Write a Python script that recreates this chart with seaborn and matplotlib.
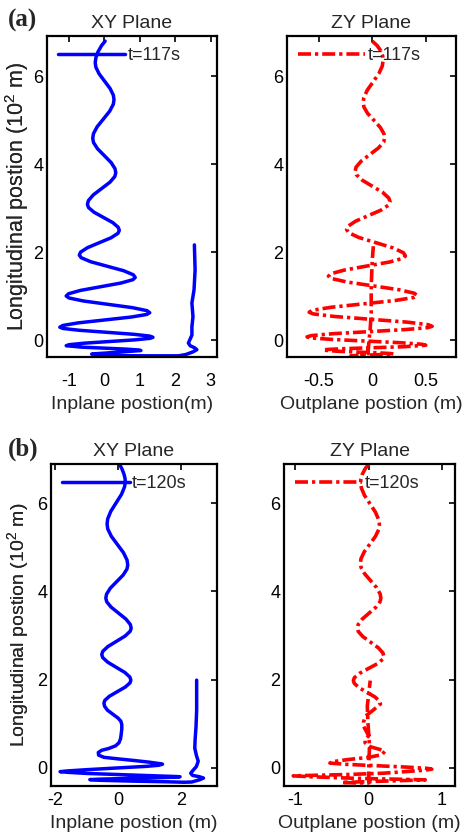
import numpy as np
import pandas as pd
import seaborn as sns
import matplotlib
matplotlib.use("Agg")
import matplotlib.pyplot as plt

# ---------------- data ----------------
# (a) XY plane, t=117s  (inplane position [m], longitudinal position [1e2 m])
xy117_x = [0.02, -0.08, -0.18, -0.24, -0.26,
           -0.242, -0.151, 0.005, 0.161, 0.252, 0.27,
           0.250, 0.146, -0.03, -0.206, -0.310, -0.33,
           -0.308, -0.196, -0.005, 0.186, 0.298, 0.32,
           0.293, 0.155, -0.08, -0.315, -0.453, -0.48,
           -0.449, -0.295, -0.03, 0.235, 0.389, 0.42,
           0.382, 0.187, -0.145, -0.477, -0.672, -0.71,
           -0.656, -0.385, 0.08, 0.545, 0.816, 0.87,
           0.804, 0.468, -0.105, -0.678, -1.014, -1.08,
           -1.000, -0.594, 0.10, 0.794, 1.200, 1.28,
           1.194, 0.757, 0.01, -0.737, -1.174, -1.26,
           -1.171, -0.718, 0.055, 0.828, 1.281, 1.37,
           1.287, 0.865, 0.145, -0.575, -0.997, -1.08,
           -0.645, -0.025, 0.595, 0.96, 1.03,
           0.74, 0.335, -0.07, -0.31, -0.36,
           -0.30, 0.30, 1.20, 2.09, 2.30, 2.50, 2.61, 2.55, 2.42, 2.37, 2.42,
           2.47, 2.47, 2.50, 2.47, 2.53, 2.56, 2.54]
xy117_y = [6.80, 6.70, 6.56, 6.43, 6.31,
           6.209, 6.058, 5.89, 5.722, 5.571, 5.47,
           5.364, 5.206, 5.03, 4.854, 4.696, 4.59,
           4.496, 4.356, 4.20, 4.044, 3.904, 3.81,
           3.724, 3.594, 3.45, 3.306, 3.176, 3.09,
           3.019, 2.913, 2.795, 2.677, 2.571, 2.50,
           2.433, 2.332, 2.22, 2.108, 2.007, 1.94,
           1.879, 1.787, 1.685, 1.583, 1.491, 1.43,
           1.380, 1.304, 1.22, 1.136, 1.060, 1.01,
           0.964, 0.896, 0.82, 0.744, 0.676, 0.63,
           0.590, 0.531, 0.465, 0.399, 0.340, 0.30,
           0.272, 0.231, 0.185, 0.139, 0.098, 0.07,
           0.047, 0.013, -0.025, -0.063, -0.097, -0.12,
           -0.153, -0.175, -0.197, -0.217, -0.23,
           -0.247, -0.27, -0.293, -0.305, -0.31,
           -0.335, -0.345, -0.35, -0.35, -0.32, -0.26, -0.21, -0.17, -0.12, -0.06, 0.03,
           0.12, 0.31, 0.54, 0.85, 1.15, 1.60, 2.17]

# (a) ZY plane, t=117s
zy117_x = [0.0, 0.045, 0.08, 0.098, 0.10,
           0.094, 0.062, 0.008, -0.047, -0.079, -0.085,
           -0.078, -0.044, 0.016, 0.075, 0.109, 0.116,
           0.107, 0.059, -0.022, -0.103, -0.151, -0.16,
           -0.149, -0.093, 0.003, 0.099, 0.155, 0.166,
           0.152, 0.082, -0.037, -0.156, -0.226, -0.24,
           -0.221, -0.127, 0.035, 0.197, 0.291, 0.31,
           0.286, 0.162, -0.05, -0.262, -0.386, -0.41,
           -0.382, -0.239, 0.005, 0.249, 0.392, 0.42,
           0.386, 0.212, -0.085, -0.382, -0.556, -0.59,
           -0.551, -0.353, -0.015, 0.323, 0.521, 0.56,
           0.520, 0.319, -0.025, -0.369, -0.570, -0.61,
           -0.572, -0.381, -0.055, 0.271, 0.462, 0.50,
           0.302, 0.02, -0.262, -0.427, -0.46,
           -0.324, -0.13, 0.064, 0.178, 0.20,
           -0.05, -0.20, -0.10, -0.04, -0.03, -0.02, -0.01, -0.01, 0.00, 0.01]
zy117_y = [6.80, 6.70, 6.58, 6.46, 6.35,
           6.236, 6.065, 5.875, 5.685, 5.514, 5.40,
           5.304, 5.16, 5.00, 4.84, 4.696, 4.60,
           4.51, 4.375, 4.225, 4.075, 3.94, 3.85,
           3.766, 3.64, 3.50, 3.36, 3.234, 3.15,
           3.074, 2.961, 2.835, 2.709, 2.596, 2.52,
           2.448, 2.34, 2.22, 2.10, 1.992, 1.92,
           1.865, 1.782, 1.69, 1.598, 1.515, 1.46,
           1.407, 1.328, 1.24, 1.152, 1.073, 1.02,
           0.974, 0.906, 0.83, 0.754, 0.686, 0.64,
           0.602, 0.544, 0.48, 0.416, 0.358, 0.32,
           0.291, 0.248, 0.20, 0.152, 0.109, 0.08,
           0.057, 0.023, -0.015, -0.053, -0.087, -0.11,
           -0.143, -0.165, -0.187, -0.207, -0.22,
           -0.247, -0.265, -0.283, -0.30, -0.31,
           -0.335, -0.35, -0.345, -0.30, 0.01, 0.24, 0.62, 1.22, 1.83, 2.14]

# (b) XY plane, t=120s
xy120_x = [0.06, 0.13, 0.19, 0.225, 0.23,
           0.210, 0.111, -0.06, -0.231, -0.330, -0.35,
           -0.328, -0.214, -0.02, 0.174, 0.288, 0.31,
           0.286, 0.166, -0.04, -0.246, -0.366, -0.39,
           -0.362, -0.223, 0.015, 0.253, 0.392, 0.42,
           0.388, 0.226, -0.05, -0.326, -0.488, -0.52,
           -0.488, -0.328, -0.055, 0.218, 0.378, 0.41,
           0.381, 0.233, -0.02, -0.273, -0.421, -0.45,
           -0.43, -0.34, -0.17, 0.0, 0.09, 0.12, 0.12, 0.10, 0.08, 0.03, -0.08,
           -0.30, -0.52, -0.63, -0.62, -0.45, 0.0, 0.49, 1.0, 1.30, 1.42, 1.30, 0.9,
           0.0, -1.0, -1.65, -1.85, -1.6, -1.0, 0.0, 1.2, 1.85, 1.98, 1.6, 0.5, -0.6,
           -0.9, -0.6, 0.5, 1.6, 2.1, 2.35, 2.60, 2.73, 2.60, 2.38, 2.32, 2.40, 2.50,
           2.56, 2.50, 2.45, 2.46, 2.49, 2.51, 2.51]
xy120_y = [6.87, 6.77, 6.66, 6.56, 6.49,
           6.375, 6.202, 6.01, 5.818, 5.645, 5.53,
           5.418, 5.251, 5.065, 4.879, 4.712, 4.60,
           4.51, 4.375, 4.225, 4.075, 3.94, 3.85,
           3.768, 3.646, 3.51, 3.374, 3.252, 3.17,
           3.098, 2.99, 2.87, 2.75, 2.642, 2.57,
           2.50, 2.396, 2.28, 2.164, 2.06, 1.99,
           1.928, 1.834, 1.73, 1.626, 1.532, 1.47,
           1.40, 1.31, 1.22, 1.13, 1.06, 0.98, 0.88, 0.76, 0.66, 0.57, 0.50,
           0.44, 0.40, 0.35, 0.29, 0.24, 0.205, 0.17, 0.13, 0.10, 0.085, 0.06, 0.035,
           0.0, -0.04, -0.07, -0.085, -0.10, -0.125, -0.15, -0.18, -0.195, -0.20, -0.215, -0.235, -0.255,
           -0.265, -0.28, -0.30, -0.315, -0.325, -0.32, -0.27, -0.23, -0.20, -0.17, -0.12, -0.05, 0.03,
           0.15, 0.29, 0.45, 0.63, 0.94, 1.31, 1.99]

# (b) ZY plane, t=120s
zy120_x = [0.0, -0.05, -0.09, -0.108, -0.11,
           -0.101, -0.057, 0.018, 0.092, 0.136, 0.145,
           0.136, 0.091, 0.015, -0.061, -0.106, -0.115,
           -0.105, -0.057, 0.025, 0.107, 0.155, 0.165,
           0.154, 0.099, 0.005, -0.089, -0.144, -0.155,
           -0.143, -0.081, 0.025, 0.131, 0.193, 0.205,
           0.191, 0.12, -0.003, -0.125, -0.196, -0.21,
           -0.197, -0.134, -0.025, 0.084, 0.147, 0.16,
           0.06, -0.04, -0.07, -0.07, -0.03, 0.0, -0.05, -0.05, 0.02, 0.15, 0.22, 0.18,
           0.0, -0.28, -0.50, -0.53, -0.30, 0.1, 0.5, 0.80, 0.86, 0.70, 0.2, -0.3, -0.8,
           -1.03, -0.8, -0.2, 0.5, 0.77, 0.5, 0.0, -0.37, -0.2, 0.0, 0.0, 0.0, 0.01,
           -0.01, -0.02, 0.02]
zy120_y = [6.89, 6.78, 6.65, 6.54, 6.46,
           6.346, 6.175, 5.985, 5.795, 5.624, 5.51,
           5.406, 5.249, 5.075, 4.901, 4.744, 4.64,
           4.545, 4.403, 4.245, 4.087, 3.945, 3.85,
           3.768, 3.646, 3.51, 3.374, 3.252, 3.17,
           3.093, 2.978, 2.85, 2.722, 2.607, 2.53,
           2.464, 2.365, 2.255, 2.145, 2.046, 1.98,
           1.916, 1.821, 1.715, 1.609, 1.514, 1.45,
           1.31, 1.18, 1.05, 0.94, 0.82, 0.73, 0.65, 0.57, 0.48, 0.42, 0.38, 0.30,
           0.24, 0.19, 0.14, 0.11, 0.08, 0.05, 0.02, -0.01, -0.03, -0.06, -0.12, -0.15, -0.17,
           -0.18, -0.20, -0.235, -0.26, -0.27, -0.285, -0.31, -0.33, -0.34, -0.34, -0.20, 0.0, 0.5,
           1.0, 1.4, 1.98]

labels_t = ["t=117s", "t=120s"]
xticks_list = [[-1, 0, 1, 2, 3], [-0.5, 0, 0.5], [-2, 0, 2], [-1, 0, 1]]
yticks = [0, 2, 4, 6]
xlabels = ["Inplane postion(m)", "Outplane postion (m)",
           "Inplane postion (m)", "Outplane postion (m)"]
titles = ["XY Plane", "ZY Plane", "XY Plane", "ZY Plane"]
ylabel = "Longitudinal postion (10$^2$ m)"

# ---------------- style ----------------
sns.set_style("white")
plt.rcParams["font.family"] = ["Liberation Sans", "DejaVu Sans"]
plt.rcParams["axes.unicode_minus"] = False
plt.rcParams["mathtext.fontset"] = "custom"
plt.rcParams["mathtext.rm"] = "Liberation Sans"

W, H = 464, 838
fig = plt.figure(figsize=(W / 100, H / 100), dpi=100)

def rect(l, r, t, b):
    return [l / W, 1 - b / H, (r - l) / W, (b - t) / H]

axes_px = [(46.7, 216.7, 36.3, 356.7), (286.7, 455.7, 36.3, 356.7),
           (51.0, 216.7, 464.0, 786.0), (283.7, 455.3, 464.0, 786.0)]
xlims = [(-1.63, 3.17), (-0.80, 0.78), (-2.14, 3.15), (-1.16, 1.18)]
ylims = [(-0.37, 6.91), (-0.37, 6.91), (-0.41, 6.89), (-0.41, 6.89)]

series = [(xy117_x, xy117_y, labels_t[0], "#0000ff", "-"),
          (zy117_x, zy117_y, labels_t[0], "#ff0000", "dashdot"),
          (xy120_x, xy120_y, labels_t[1], "#0000ff", "-"),
          (zy120_x, zy120_y, labels_t[1], "#ff0000", "dashdot")]

ylab_sizes = [15.5, 15.5, 14, 14]
xtick_pads = [12, 12, 4, 4]
xlabel_top_px = [396, 396, 815, 815]
ylabel_right_px = [31, 31, 32, 32]

for i, (xs, ys, lab, col, ls) in enumerate(series):
    l, r, t, b = axes_px[i]
    ax = fig.add_axes(rect(l, r, t, b))
    df = pd.DataFrame({"x": xs, "y": ys})
    if ls == "-":
        sns.lineplot(data=df, x="x", y="y", sort=False, estimator=None, ax=ax,
                     color=col, lw=2.5, label=lab)
    else:
        sns.lineplot(data=df, x="x", y="y", sort=False, estimator=None, ax=ax,
                     color=col, lw=2.6, label=lab,
                     linestyle=(0, (3.6, 1.1, 0.9, 1.1)))
    for ln in ax.get_lines():
        ln.set_solid_joinstyle("round")
        ln.set_dash_joinstyle("round")
    ax.set_xlim(*xlims[i])
    ax.set_ylim(*ylims[i])
    ax.set_xticks(xticks_list[i])
    ax.set_xticklabels([("%g" % v) for v in xticks_list[i]])
    ax.set_yticks(yticks)
    ax.tick_params(direction="in", top=True, right=True, length=4, width=1.2,
                   labelsize=13, pad=2.5, colors="black")
    ax.tick_params(axis="x", pad=xtick_pads[i])
    for sp in ax.spines.values():
        sp.set_linewidth(1.6)
        sp.set_color("black")
    ax.set_xlabel(xlabels[i], fontsize=14)
    ax.xaxis.set_label_coords(0.5, -(xlabel_top_px[i] - b) / (b - t))
    ax.set_ylabel(ylabel, fontsize=ylab_sizes[i])
    ax.yaxis.set_label_coords(-(l - ylabel_right_px[i]) / (r - l), 0.5)
    ax.set_title(titles[i], fontsize=14, pad=6)
    ax.legend(loc="upper left", frameon=False, fontsize=13, handlelength=3.75,
              handletextpad=0.15, borderaxespad=0.3, borderpad=0.3)

fig.text(8 / W, 1 - 9 / H, "(a)", ha="left", va="top", fontsize=18,
         fontweight="bold", family=["Liberation Serif", "DejaVu Serif"])
fig.text(8 / W, 1 - 438 / H, "(b)", ha="left", va="top", fontsize=18,
         fontweight="bold", family=["Liberation Serif", "DejaVu Serif"])

fig.savefig("out.png", dpi=100)
